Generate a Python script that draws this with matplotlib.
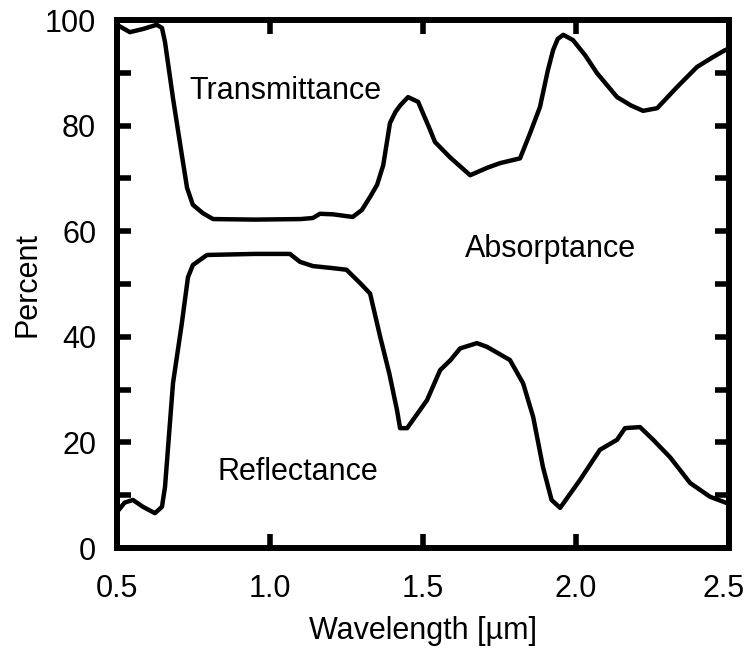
import numpy as np
import matplotlib.pyplot as plt
import matplotlib.transforms as mtransforms
from matplotlib.ticker import MultipleLocator

plt.rcParams['font.family'] = ['Liberation Sans', 'DejaVu Sans']

# transmittance curve (upper line)
trans_wl = [0.50, 0.542, 0.585, 0.63, 0.647, 0.657, 0.683, 0.712, 0.729, 0.748, 0.781,
            0.814, 0.95, 1.10, 1.14, 1.163, 1.206, 1.27, 1.30, 1.327, 1.35, 1.37,
            1.392, 1.41, 1.425, 1.451, 1.484, 1.523, 1.539, 1.588, 1.654, 1.709,
            1.752, 1.817, 1.85, 1.882, 1.908, 1.925, 1.94, 1.958, 1.99, 2.03, 2.069,
            2.134, 2.18, 2.219, 2.265, 2.33, 2.395, 2.448, 2.487, 2.50]
trans_pct = [99.1, 97.7, 98.3, 99.1, 98.5, 95.8, 85.2, 74.4, 68.2, 65.0, 63.4,
             62.3, 62.2, 62.3, 62.5, 63.3, 63.2, 62.7, 64.0, 66.5, 68.8, 72.5,
             80.5, 82.6, 83.8, 85.4, 84.5, 79.2, 76.9, 74.0, 70.6, 72.0,
             72.9, 73.8, 78.6, 83.5, 90.5, 94.3, 96.4, 97.2, 96.2, 93.3, 89.9,
             85.4, 83.8, 82.8, 83.3, 87.3, 91.1, 93.0, 94.3, 94.6]

# reflectance curve (lower line)
refl_wl = [0.50, 0.525, 0.552, 0.585, 0.624, 0.647, 0.657, 0.683, 0.712, 0.732, 0.748,
           0.794, 0.95, 1.065, 1.098, 1.14, 1.206, 1.25, 1.294, 1.327, 1.36, 1.39,
           1.415, 1.425, 1.448, 1.48, 1.513, 1.556, 1.59, 1.621, 1.676, 1.709, 1.784,
           1.827, 1.86, 1.892, 1.92, 1.948, 1.975, 2.013, 2.078, 2.134, 2.16, 2.209,
           2.252, 2.307, 2.373, 2.438, 2.493, 2.50]
refl_pct = [6.8, 8.6, 9.1, 7.8, 6.6, 7.8, 11.6, 31.2, 42.6, 51.3, 53.6,
            55.5, 55.7, 55.7, 54.2, 53.4, 53.0, 52.7, 50.2, 48.2, 40.0, 33.0,
            26.1, 22.7, 22.7, 25.3, 28.0, 33.7, 35.6, 37.8, 38.8, 38.1, 35.6,
            31.2, 24.8, 15.3, 9.1, 7.6, 9.8, 12.9, 18.6, 20.5, 22.7, 22.9,
            20.5, 17.2, 12.3, 9.7, 8.5, 8.4]

fig = plt.figure(figsize=(7.47, 6.52), dpi=100)
ax = fig.add_axes([0.1566, 0.1595, 0.8194, 0.8098])

ax.plot(trans_wl, trans_pct, color='black', linewidth=3.2, solid_joinstyle='round')
ax.plot(refl_wl, refl_pct, color='black', linewidth=3.2, solid_joinstyle='round')

ax.text(1.05, 86.6, 'Transmittance', fontsize=22, ha='center', va='center')
ax.text(1.915, 56.6, 'Absorptance', fontsize=22, ha='center', va='center')
ax.text(1.09, 14.4, 'Reflectance', fontsize=22, ha='center', va='center')

ax.set_xlim(0.5, 2.5)
ax.set_ylim(0, 100)
ax.set_xticks([0.5, 1.0, 1.5, 2.0, 2.5])
ax.set_xticklabels(['0.5', '1.0', '1.5', '2.0', '2.5'])
ax.yaxis.set_major_locator(MultipleLocator(20))
ax.yaxis.set_minor_locator(MultipleLocator(10))

ax.set_xlabel('Wavelength [\u00b5m]', fontsize=22, labelpad=8)
ax.set_ylabel('Percent', fontsize=22, labelpad=2)

for s in ax.spines.values():
    s.set_linewidth(4.3)

ax.tick_params(axis='both', which='both', direction='in', top=True, right=True,
               length=10, width=4, labelsize=22)
ax.tick_params(axis='x', pad=19)
ax.tick_params(axis='y', pad=15)

# keep the last x label inside the figure
last = ax.get_xticklabels()[-1]
last.set_transform(last.get_transform() +
                   mtransforms.ScaledTranslation(-4 / 72, 0, fig.dpi_scale_trans))

fig.savefig('out.png', dpi=100)
